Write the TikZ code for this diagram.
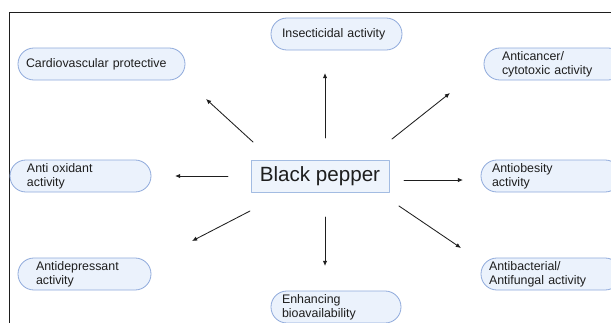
\documentclass[tikz,border=0pt]{standalone}
\usepackage{fontspec}
\setmainfont{Liberation Sans}
\usetikzlibrary{arrows.meta}
\definecolor{ink}{HTML}{1E1E1E}
\definecolor{pillfill}{HTML}{EBF2FC}
\definecolor{pilldraw}{HTML}{8EA9DB}
\definecolor{corefill}{HTML}{EEF4FC}
\definecolor{coredraw}{HTML}{A3BCE2}
\tikzset{
  arr/.style={-{Latex[length=5.2pt,width=4.4pt]}, line width=0.85pt, draw=ink},
  figbase/.style={
    x=1pt, y=-1pt,
    font=\fontsize{12.4}{13.6}\selectfont,
    color=ink,
    line cap=round,
    line join=round,
  },
  pill/.style={
    draw=pilldraw, fill=pillfill, line width=0.8pt,
    rounded corners=15.9pt,
    minimum height=32pt, inner ysep=0pt,
    align=left, text=ink,
  },
  core/.style={
    draw=coredraw, fill=corefill, line width=0.8pt,
    minimum width=138pt, minimum height=32pt, inner sep=0pt,
    font=\fontsize{20.6}{24}\selectfont, text=ink,
  },
  frame/.style={draw=ink, line width=0.9pt},
}

\begin{document}
\begin{tikzpicture}[figbase]
  \useasboundingbox (0,0) rectangle (611,322);
  \clip (0,0) rectangle (611,322);
  \draw[frame] (9,340) -- (9,12) -- (630,12);

  \node[core] (bp) at (320,176) {Black pepper};

  \node[pill, text width=109pt, inner xsep=11pt] (ins) at (336.5,34) {Insecticidal activity};
  \node[pill, text width=151pt, inner xsep=8pt] (cardio) at (101.5,64) {Cardiovascular protective};
  \node[pill, text width=104pt, inner xsep=18pt] (cancer) at (554,64) {Anticancer/\\cytotoxic activity};
  \node[pill, text width=107pt, inner xsep=17pt] (oxid) at (80.5,176) {Anti oxidant\\activity};
  \node[pill, text width=118pt, inner xsep=11pt] (obes) at (551,176) {Antiobesity\\activity};
  \node[pill, text width=97pt, inner xsep=18pt] (depr) at (84.5,274) {Antidepressant\\activity};
  \node[pill, text width=108pt, inner xsep=11pt] (bioav) at (336,307) {Enhancing\\bioavailability};
  \node[pill, text width=124pt, inner xsep=8pt] (bact) at (551,274) {Antibacterial/\\Antifungal activity};

  % arrow ends, free of the boxes
  \coordinate (ins-s) at (325,138);    \coordinate (ins-e) at (325,73);
  \coordinate (cardio-s) at (253,142); \coordinate (cardio-e) at (206,99);
  \coordinate (cancer-s) at (392,139); \coordinate (cancer-e) at (450,93);
  \coordinate (oxid-s) at (228,176);   \coordinate (oxid-e) at (175,176);
  \coordinate (obes-s) at (404,180);   \coordinate (obes-e) at (463,180);
  \coordinate (depr-s) at (250,211);   \coordinate (depr-e) at (192,241);
  \coordinate (bioav-s) at (325,217);  \coordinate (bioav-e) at (325,266);
  \coordinate (bact-s) at (399,206);   \coordinate (bact-e) at (461,248);

  \draw[arr] (ins-s) -- (ins-e);
  \draw[arr] (cardio-s) -- (cardio-e);
  \draw[arr] (cancer-s) -- (cancer-e);
  \draw[arr] (oxid-s) -- (oxid-e);
  \draw[arr] (obes-s) -- (obes-e);
  \draw[arr] (depr-s) -- (depr-e);
  \draw[arr] (bioav-s) -- (bioav-e);
  \draw[arr] (bact-s) -- (bact-e);
\end{tikzpicture}
\end{document}
